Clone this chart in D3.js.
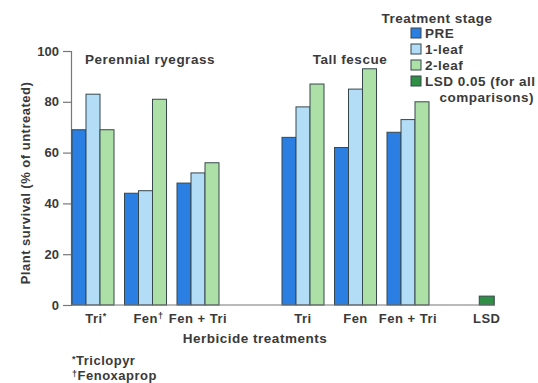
<!DOCTYPE html>
<html><head><meta charset="utf-8">
<script src="https://cdn.jsdelivr.net/npm/d3@7"></script>
<style>
html,body{margin:0;padding:0;background:#fff;}
text{font-family:"Liberation Sans",Arial,sans-serif;font-weight:bold;fill:#3a3a3a;letter-spacing:0.5px;}
</style></head>
<body>
<svg id="chart" width="538" height="383"></svg>
<script>
// ---- data ----
const groups = ["Tri", "Fen", "Fen + Tri", "Tri", "Fen", "Fen + Tri"];
const groupMarks = ["*", "†", "", "", "", ""];
const groupSlots = [0, 1, 2, 4, 5, 6];
const species = ["Perennial ryegrass", "Tall fescue"];
const stages = ["PRE", "1-leaf", "2-leaf"];
const preValues = [69, 44, 48, 66, 62, 68];
const leaf1Values = [83, 45, 52, 78, 85, 73];
const leaf2Values = [69, 81, 56, 87, 93, 80];
const lsdLabel = "LSD";
const lsdValue = 3.5;
const lsdSlot = 7.5;
const yTicks = [0, 20, 40, 60, 80, 100];
const footnoteMarks = ["*", "†"];
const footnotes = ["Triclopyr", "Fenoxaprop"];

const colors = {"PRE": "#2b7fe3", "1-leaf": "#b3ddf7", "2-leaf": "#ade0a6", "LSD": "#2f8f45"};
const outline = "#36474c";

const svg = d3.select("#chart");
const x = d3.scaleLinear().domain([0, 6]).range([93, 408]);
const y = d3.scaleLinear().domain([0, 100]).range([305, 51]);
const barW = 14;

// y axis
const yAxis = svg.append("g").attr("transform", "translate(71,0)")
  .call(d3.axisLeft(y).tickValues(yTicks).tickSize(8).tickPadding(4));
yAxis.select(".domain").attr("stroke", "#777").attr("stroke-width", 1.2);
yAxis.selectAll(".tick line").attr("stroke", "#777").attr("stroke-width", 1.2);
yAxis.selectAll(".tick text").style("font-size", "13px").attr("fill", "#3a3a3a")
  .style("font-family", "'Liberation Sans',Arial,sans-serif").style("font-weight", "bold")
  .style("letter-spacing", "0px");

// bars
const series = [preValues, leaf1Values, leaf2Values];
series.forEach((vals, si) => {
  svg.append("g").selectAll("rect").data(vals).join("rect")
    .attr("x", (d, i) => x(groupSlots[i]) - 1.5 * barW + si * barW)
    .attr("y", d => y(d))
    .attr("width", barW)
    .attr("height", d => y(0) - y(d))
    .attr("fill", colors[stages[si]])
    .attr("stroke", outline).attr("stroke-width", 1);
});
// LSD bar
svg.append("rect")
  .attr("x", x(lsdSlot) - barW / 2 - 0.5).attr("y", y(lsdValue))
  .attr("width", barW + 1).attr("height", y(0) - y(lsdValue))
  .attr("fill", colors.LSD).attr("stroke", outline).attr("stroke-width", 1);

// baseline
svg.append("line").attr("x1", 71).attr("x2", 495).attr("y1", y(0)).attr("y2", y(0))
  .attr("stroke", "#777").attr("stroke-width", 1.2);

// x labels
const xl = svg.append("g").selectAll("text").data(groups).join("text")
  .attr("x", (d, i) => x(groupSlots[i]) + (groupMarks[i] ? 3 : 0)).attr("y", 323)
  .attr("text-anchor", "middle").style("font-size", "13px");
xl.append("tspan").text(d => d);
xl.append("tspan").attr("dy", -4).style("font-size", "9px").text((d, i) => groupMarks[i]);
svg.append("text").attr("x", x(lsdSlot)).attr("y", 323).attr("text-anchor", "middle")
  .style("font-size", "13px").text(lsdLabel);

svg.append("text").attr("x", 255).attr("y", 343).attr("text-anchor", "middle")
  .style("font-size", "13.5px").text("Herbicide treatments");

// species titles
svg.append("text").attr("x", 150).attr("y", 64).attr("text-anchor", "middle")
  .style("font-size", "13.5px").text(species[0]);
svg.append("text").attr("x", 350).attr("y", 64).attr("text-anchor", "middle")
  .style("font-size", "13.5px").text(species[1]);

// y label
svg.append("text").attr("transform", "translate(30,183) rotate(-90)")
  .attr("text-anchor", "middle").style("font-size", "13px")
  .text("Plant survival (% of untreated)");

// footnotes
const fn = svg.append("g").selectAll("text").data(footnotes).join("text")
  .attr("x", 72).attr("y", (d, i) => 365 + i * 15)
  .style("font-size", "13px");
fn.append("tspan").attr("dy", -3).style("font-size", "9px").text((d, i) => footnoteMarks[i]);
fn.append("tspan").attr("dy", 3).text(d => d);

// legend
svg.append("text").attr("x", 437).attr("y", 23).attr("text-anchor", "middle")
  .style("font-size", "13.5px").text("Treatment stage");
const legItems = [["PRE", "PRE"], ["1-leaf", "1-leaf"], ["2-leaf", "2-leaf"], ["LSD", "LSD 0.05 (for all"]];
const leg = svg.append("g").selectAll("g").data(legItems).join("g")
  .attr("transform", (d, i) => `translate(411,${28 + i * 16})`);
leg.append("rect").attr("width", 10).attr("height", 10)
  .attr("fill", d => colors[d[0]]).attr("stroke", outline).attr("stroke-width", 1);
leg.append("text").attr("x", 14).attr("y", 10).style("font-size", "13.5px").text(d => d[1]);
svg.append("text").attr("x", 534).attr("y", 102).attr("text-anchor", "end")
  .style("font-size", "13.5px").text("comparisons)");
</script>
</body></html>
